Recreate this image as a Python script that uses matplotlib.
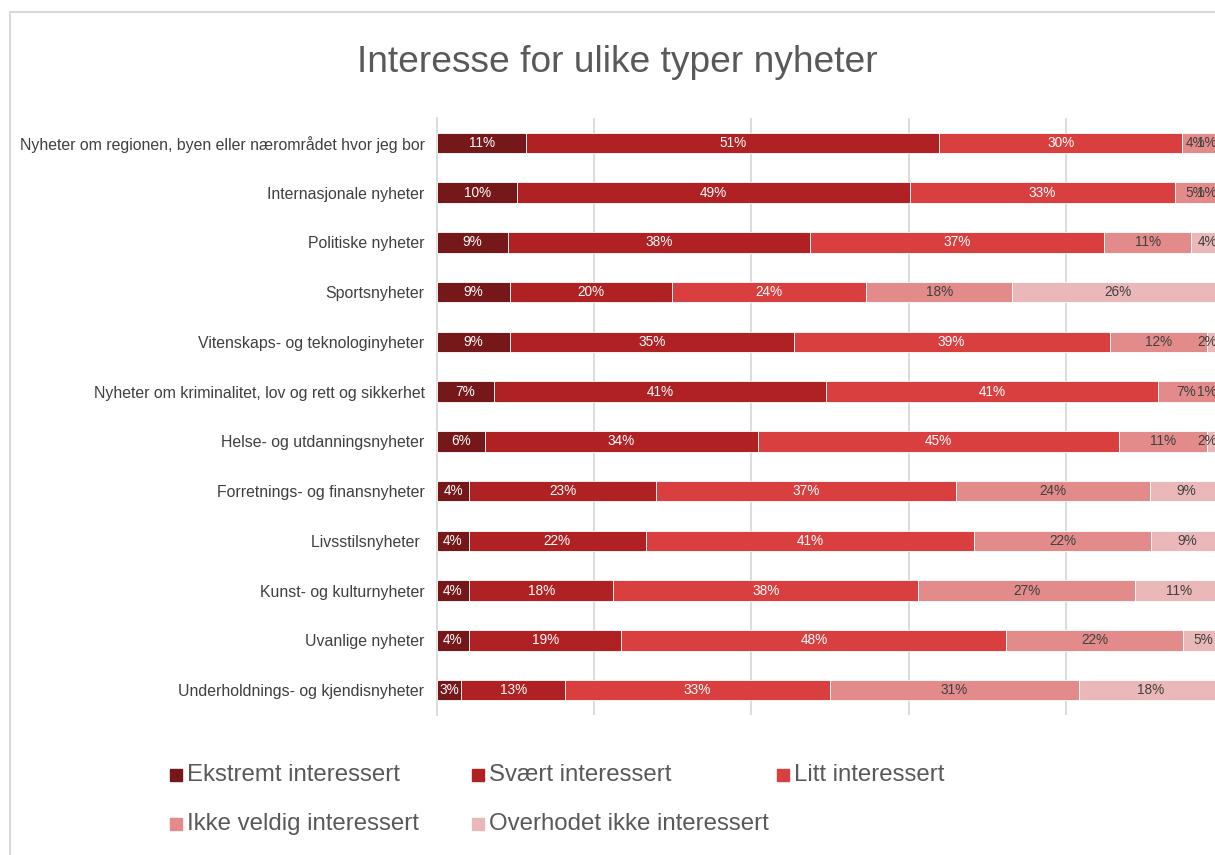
import numpy as np
import matplotlib.pyplot as plt
from matplotlib.lines import Line2D
from matplotlib.patches import Rectangle

plt.rcParams['font.family'] = ['Liberation Sans', 'DejaVu Sans']

categories = [
    "Nyheter om regionen, byen eller nærområdet hvor jeg bor",
    "Internasjonale nyheter",
    "Politiske nyheter",
    "Sportsnyheter",
    "Vitenskaps- og teknologinyheter",
    "Nyheter om kriminalitet, lov og rett og sikkerhet",
    "Helse- og utdanningsnyheter",
    "Forretnings- og finansnyheter",
    "Livsstilsnyheter ",
    "Kunst- og kulturnyheter",
    "Uvanlige nyheter",
    "Underholdnings- og kjendisnyheter",
]
series = ["Ekstremt interessert", "Svært interessert", "Litt interessert",
          "Ikke veldig interessert", "Overhodet ikke interessert"]
ekstremt = [11, 10, 9, 9, 9, 7, 6, 4, 4, 4, 4, 3]
svaert = [51, 49, 38, 20, 35, 41, 34, 23, 22, 18, 19, 13]
litt = [30, 33, 37, 24, 39, 41, 45, 37, 41, 38, 48, 33]
ikke_veldig = [4, 5, 11, 18, 12, 7, 11, 24, 22, 27, 22, 31]
overhodet = [1, 1, 4, 26, 2, 1, 2, 9, 9, 11, 5, 18]

colors = ["#761719", "#B02123", "#DA3F40", "#E28B8A", "#EAB8B8"]
label_colors = ["white", "white", "white", "#404040", "#404040"]
# labels near the cropped right edge are pushed back inside the picture
label_max = [1, 1, 1, 0.965, 0.98]

data = np.array([ekstremt, svaert, litt, ikke_veldig, overhodet], dtype=float)
share = data / data.sum(axis=0)

W, H = 1215, 855
fig = plt.figure(figsize=(W / 100, H / 100), dpi=100)

# chart border (cropped at right/bottom)
fig.add_artist(Line2D([10 / W, 10 / W], [0, 1 - 12 / H], color="#D9D9D9", lw=1.5))
fig.add_artist(Line2D([10 / W, 1], [1 - 12 / H, 1 - 12 / H], color="#D9D9D9", lw=1.5))

ax = fig.add_axes([437 / W, 1 - 715 / H, (1223 - 437) / W, (715 - 118) / H])
y = np.arange(len(categories))
left = np.zeros(len(categories))
for i, name in enumerate(series):
    ax.barh(y, share[i], left=left, height=0.41, color=colors[i],
            edgecolor="white", linewidth=0.6, label=name, zorder=3)
    for j in range(len(categories)):
        cx = min(left[j] + share[i][j] / 2, label_max[i])
        ax.text(cx, y[j], f"{int(data[i][j])}%", ha="center", va="center",
                fontsize=9.8, color=label_colors[i], zorder=4)
    left += share[i]

ax.set_xlim(0, 1)
ax.set_ylim(len(categories) - 0.5, -0.5)
ax.set_yticks(y)
ax.set_yticklabels(categories, fontsize=11.4, color="#404040")
ax.set_xticks([0.2, 0.4, 0.6, 0.8])
ax.tick_params(axis="x", length=0, labelbottom=False)
ax.tick_params(axis="y", length=0, pad=9)
ax.grid(axis="x", color="#D9D9D9", lw=1.3, zorder=0)
for s in ["top", "right", "bottom"]:
    ax.spines[s].set_visible(False)
ax.spines["left"].set_color("#D9D9D9")
ax.spines["left"].set_linewidth(1.3)

fig.text(617 / W, 1 - 62 / H, "Interesse for ulike typer nyheter",
         ha="center", va="center", fontsize=26.7, color="#595959")

positions = [(176, 775), (478, 775), (783, 775), (176, 824), (478, 824)]
for (px, py), c, name in zip(positions, colors, series):
    fig.add_artist(Rectangle(((px - 6) / W, 1 - (py + 6) / H), 12 / W, 12 / H,
                             color=c, transform=fig.transFigure))
    fig.text((px + 11) / W, 1 - py / H, name, ha="left", va="center",
             fontsize=17.3, color="#595959")

fig.savefig("out.png", dpi=100)
